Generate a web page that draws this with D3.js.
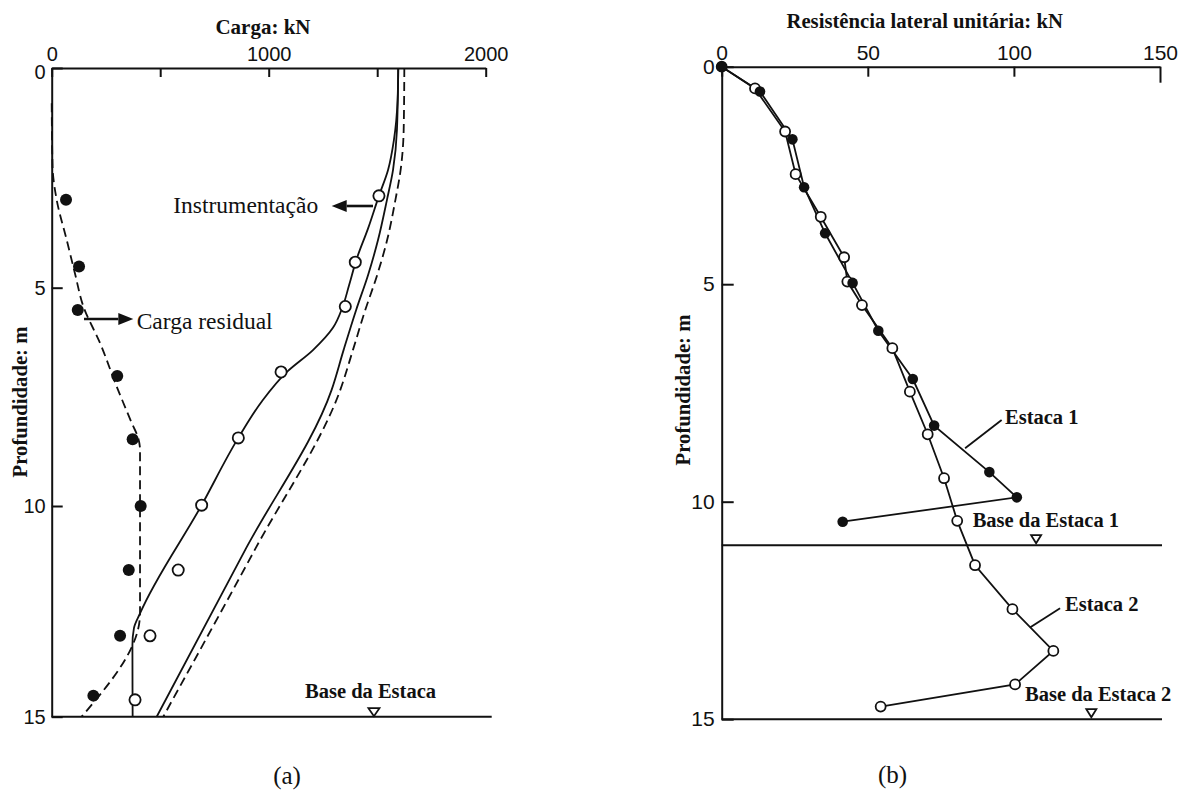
<!DOCTYPE html>
<html>
<head>
<meta charset="utf-8">
<script src="https://cdn.jsdelivr.net/npm/d3@7"></script>
<style>
  html, body { margin: 0; padding: 0; background: #fff; }
  svg { display: block; }
</style>
</head>
<body>
<svg id="chart" width="1182" height="790"></svg>
<script>
// ---------- Panel (a): load distribution along the pile ----------
const loadTickValues = [0, 500, 1000, 1500, 2000];
const loadTickLabels = [0, 1000, 2000];
const depthTickValues = [0, 5, 10, 15];

// measured points [load kN, depth m]
const residualPts = [[66, 3.0], [126, 4.52], [120, 5.51], [302, 7.02], [373, 8.47],
                     [410, 10.0], [355, 11.52], [315, 13.08], [192, 14.5]];
const instrumentPts = [[1508, 2.91], [1399, 4.42], [1353, 5.43], [1057, 6.93], [860, 8.44],
                       [691, 9.98], [583, 11.52], [453, 13.08], [384, 14.6]];

// fitted curves [load kN, depth m]
const residualCurve = [[0, 0.8], [4, 2.25], [23, 3.0], [69, 3.91], [107, 4.67], [146, 5.43],
                       [223, 6.27], [300, 7.27], [369, 8.1], [399, 8.45], [407, 8.71],
                       [407, 12.55], [138, 15]];
const instrumentCurve = [[1597, 0], [1594, 0.73], [1577, 1.64], [1550, 2.32], [1508, 2.91],
                         [1458, 3.65], [1405, 4.35], [1370, 4.95], [1340, 5.45], [1296, 5.92],
                         [1204, 6.43], [1084, 6.93], [969, 7.6], [860, 8.44], [691, 9.98],
                         [407, 12.55], [379, 12.9], [372, 13.3], [373, 15]];
const totalSolidCurve = [[1597, 0], [1591, 1.41], [1573, 2.32], [1545, 3.0], [1504, 3.91],
                         [1458, 4.71], [1403, 5.51], [1345, 6.43], [1290, 7.34], [896, 11], [484, 15]];
const totalDashedCurve = [[1625, 0], [1622, 1.41], [1608, 2.32], [1584, 3.0], [1546, 3.91],
                          [1500, 4.71], [1445, 5.51], [1388, 6.43], [1330, 7.34], [940, 11], [514, 15]];
const pileBaseLoad = 1485;
const pileBaseDepthA = 15;

// ---------- Panel (b): unit skin friction ----------
const skinTickValues = [0, 50, 100, 150];
const estaca1 = [[0, 0], [13.1, 0.57], [24.2, 1.67], [28.2, 2.77], [35.4, 3.83], [44.8, 4.97],
                 [53.6, 6.07], [65.4, 7.18], [72.7, 8.25], [91.6, 9.32], [101.0, 9.90], [41.4, 10.46]];
const estaca2 = [[0, 0], [11.4, 0.50], [21.7, 1.49], [25.3, 2.47], [33.9, 3.45], [41.9, 4.38],
                 [43.0, 4.94], [48.0, 5.48], [58.4, 6.47], [64.4, 7.47], [70.5, 8.45], [76.1, 9.46],
                 [80.6, 10.44], [86.7, 11.46], [99.5, 12.47], [113.5, 13.43], [100.4, 14.2], [54.4, 14.71]];
const baseDepths = [11, 15];
const baseMarkSkin = [107.6, 126.5];

const INK = "#111";
const SERIF = "'Liberation Serif', 'Times New Roman', serif";
const SANS = "'Liberation Sans', Arial, sans-serif";

const svg = d3.select("#chart");
svg.append("rect").attr("width", 1182).attr("height", 790).attr("fill", "#fff");

// ================= Panel (a) =================
const xA = d3.scaleLinear().domain([0, 2000]).range([51.7, 485.7]);
const yA = d3.scaleLinear().domain([0, 5, 10, 15]).range([68, 287.7, 506, 716.7]);
const gA = svg.append("g");

function styleAxis(g, fontSize) {
  g.select(".domain").attr("stroke", INK).attr("stroke-width", 2);
  g.selectAll(".tick line").attr("stroke", INK).attr("stroke-width", 2);
  g.selectAll(".tick text").attr("fill", INK).style("font-family", SANS).style("font-size", fontSize + "px");
}

const axATop = gA.append("g").attr("transform", `translate(0,${yA(0)})`)
  .call(d3.axisTop(xA).tickValues(loadTickValues)
    .tickFormat(d => loadTickLabels.includes(d) ? d : "")
    .tickSizeInner(-9).tickSizeOuter(0).tickPadding(7));
styleAxis(axATop, 20);

const axALeft = gA.append("g").attr("transform", `translate(${xA(0)},0)`)
  .call(d3.axisLeft(yA).tickValues(depthTickValues)
    .tickSizeInner(-11).tickSizeOuter(0).tickPadding(6));
styleAxis(axALeft, 20);
axALeft.selectAll(".tick text").filter(d => d === 0).attr("dy", "0.5em");

// base line of the pile
gA.append("line")
  .attr("x1", xA(0)).attr("x2", xA(2000) + 6)
  .attr("y1", yA(15)).attr("y2", yA(15))
  .attr("stroke", INK).attr("stroke-width", 2);

const lineA = d3.line().x(d => xA(d[0])).y(d => yA(d[1])).curve(d3.curveMonotoneY);

gA.append("path").attr("d", lineA(totalSolidCurve))
  .attr("fill", "none").attr("stroke", INK).attr("stroke-width", 1.8);
gA.append("path").attr("d", lineA(totalDashedCurve))
  .attr("fill", "none").attr("stroke", INK).attr("stroke-width", 1.8).attr("stroke-dasharray", "9,5");
gA.append("path").attr("d", lineA(instrumentCurve))
  .attr("fill", "none").attr("stroke", INK).attr("stroke-width", 1.8);
gA.append("path").attr("d", lineA(residualCurve))
  .attr("fill", "none").attr("stroke", INK).attr("stroke-width", 1.8).attr("stroke-dasharray", "9,5");

gA.selectAll("circle.res").data(residualPts).join("circle")
  .attr("class", "res").attr("cx", d => xA(d[0])).attr("cy", d => yA(d[1])).attr("r", 6)
  .attr("fill", INK);
gA.selectAll("circle.ins").data(instrumentPts).join("circle")
  .attr("class", "ins").attr("cx", d => xA(d[0])).attr("cy", d => yA(d[1])).attr("r", 5.6)
  .attr("fill", "#fff").attr("stroke", INK).attr("stroke-width", 1.8);

function arrow(g, x1, y1, x2, y2) {
  const ang = Math.atan2(y2 - y1, x2 - x1);
  const L = 15, W = 6;
  const bx = x2 - L * Math.cos(ang), by = y2 - L * Math.sin(ang);
  g.append("line").attr("x1", x1).attr("y1", y1).attr("x2", bx).attr("y2", by)
    .attr("stroke", INK).attr("stroke-width", 2.6);
  g.append("path")
    .attr("d", `M${x2},${y2} L${bx - W * Math.sin(ang)},${by + W * Math.cos(ang)} L${bx + W * Math.sin(ang)},${by - W * Math.cos(ang)} Z`)
    .attr("fill", INK);
}
arrow(gA, 373, 206, 331.7, 206);
arrow(gA, 84, 319, 133.3, 319);

gA.append("text").attr("x", 173.3).attr("y", 213).text("Instrumentação")
  .style("font-family", SERIF).style("font-size", "23.5px").attr("fill", INK);
gA.append("text").attr("x", 136.7).attr("y", 329).text("Carga residual")
  .style("font-family", SERIF).style("font-size", "23.5px").attr("fill", INK);

function baseTriangle(g, cx, yLine, w, h) {
  g.append("path")
    .attr("d", `M${cx - w / 2},${yLine - h} L${cx + w / 2},${yLine - h} L${cx},${yLine} Z`)
    .attr("fill", "#fff").attr("stroke", INK).attr("stroke-width", 1.8);
}
baseTriangle(gA, xA(pileBaseLoad), yA(pileBaseDepthA) - 0.5, 11, 8);
gA.append("text").attr("x", 305).attr("y", 698).text("Base da Estaca")
  .style("font-family", SERIF).style("font-weight", "bold").style("font-size", "20.5px").attr("fill", INK);

gA.append("text").attr("x", 263).attr("y", 34).attr("text-anchor", "middle").text("Carga: kN")
  .style("font-family", SERIF).style("font-weight", "bold").style("font-size", "21px").attr("fill", INK);
gA.append("text").attr("transform", "translate(27,402) rotate(-90)").attr("text-anchor", "middle")
  .text("Profundidade: m")
  .style("font-family", SERIF).style("font-weight", "bold").style("font-size", "20.7px").attr("fill", INK);

svg.append("text").attr("x", 287).attr("y", 784).attr("text-anchor", "middle").text("(a)")
  .style("font-family", SERIF).style("font-size", "25px").attr("fill", INK);

// ================= Panel (b) =================
const xB = d3.scaleLinear().domain([0, 150]).range([721.7, 1160]);
const yB = d3.scaleLinear().domain([0, 15]).range([66.7, 719.2]);
const gB = svg.append("g");

const axBTop = gB.append("g").attr("transform", `translate(0,${yB(0)})`)
  .call(d3.axisTop(xB).tickValues(skinTickValues)
    .tickSizeInner(-10).tickSizeOuter(0).tickPadding(7));
styleAxis(axBTop, 21);
axBTop.selectAll(".tick line").filter(d => d === 150).attr("y2", 16);

const axBLeft = gB.append("g").attr("transform", `translate(${xB(0)},0)`)
  .call(d3.axisLeft(yB).tickValues(depthTickValues)
    .tickSizeInner(-12).tickSizeOuter(0).tickPadding(7));
styleAxis(axBLeft, 21);
axBLeft.selectAll(".tick text").filter(d => d === 0).attr("dy", "0.3em");

gB.selectAll("line.base").data(baseDepths).join("line")
  .attr("class", "base")
  .attr("x1", xB(0)).attr("x2", xB(150) + 2)
  .attr("y1", d => yB(d)).attr("y2", d => yB(d))
  .attr("stroke", INK).attr("stroke-width", 2);

const lineB = d3.line().x(d => xB(d[0])).y(d => yB(d[1]));
gB.append("path").attr("d", lineB(estaca2))
  .attr("fill", "none").attr("stroke", INK).attr("stroke-width", 1.8);
gB.append("path").attr("d", lineB(estaca1))
  .attr("fill", "none").attr("stroke", INK).attr("stroke-width", 1.8);

gB.selectAll("circle.e2").data(estaca2).join("circle")
  .attr("class", "e2").attr("cx", d => xB(d[0])).attr("cy", d => yB(d[1])).attr("r", 5)
  .attr("fill", "#fff").attr("stroke", INK).attr("stroke-width", 1.8);
gB.selectAll("circle.e1").data(estaca1).join("circle")
  .attr("class", "e1").attr("cx", d => xB(d[0])).attr("cy", d => yB(d[1])).attr("r", 5.3)
  .attr("fill", INK);

baseDepths.forEach((dep, i) => baseTriangle(gB, xB(baseMarkSkin[i]), yB(dep) - 2, 10, 8));

// leader lines to the series labels
gB.append("line").attr("x1", xB(95.8)).attr("y1", yB(8.12)).attr("x2", xB(83.3)).attr("y2", yB(8.77))
  .attr("stroke", INK).attr("stroke-width", 1.8);
gB.append("line").attr("x1", xB(115.8)).attr("y1", yB(12.45)).attr("x2", xB(105.5)).attr("y2", yB(12.89))
  .attr("stroke", INK).attr("stroke-width", 1.8);

const boldLabel = (x, y, t) => gB.append("text").attr("x", x).attr("y", y).text(t)
  .style("font-family", SERIF).style("font-weight", "bold").style("font-size", "20.5px").attr("fill", INK);
boldLabel(1005, 424, "Estaca 1");
boldLabel(972.7, 527, "Base da Estaca 1");
boldLabel(1065, 610.5, "Estaca 2");
boldLabel(1025, 700.5, "Base da Estaca 2");

gB.append("text").attr("x", 924.7).attr("y", 28).attr("text-anchor", "middle")
  .text("Resistência lateral unitária: kN")
  .style("font-family", SERIF).style("font-weight", "bold").style("font-size", "20.7px").attr("fill", INK);
gB.append("text").attr("transform", "translate(690,390) rotate(-90)").attr("text-anchor", "middle")
  .text("Profundidade: m")
  .style("font-family", SERIF).style("font-weight", "bold").style("font-size", "20.7px").attr("fill", INK);

svg.append("text").attr("x", 892.5).attr("y", 783).attr("text-anchor", "middle").text("(b)")
  .style("font-family", SERIF).style("font-size", "25px").attr("fill", INK);
</script>
</body>
</html>
